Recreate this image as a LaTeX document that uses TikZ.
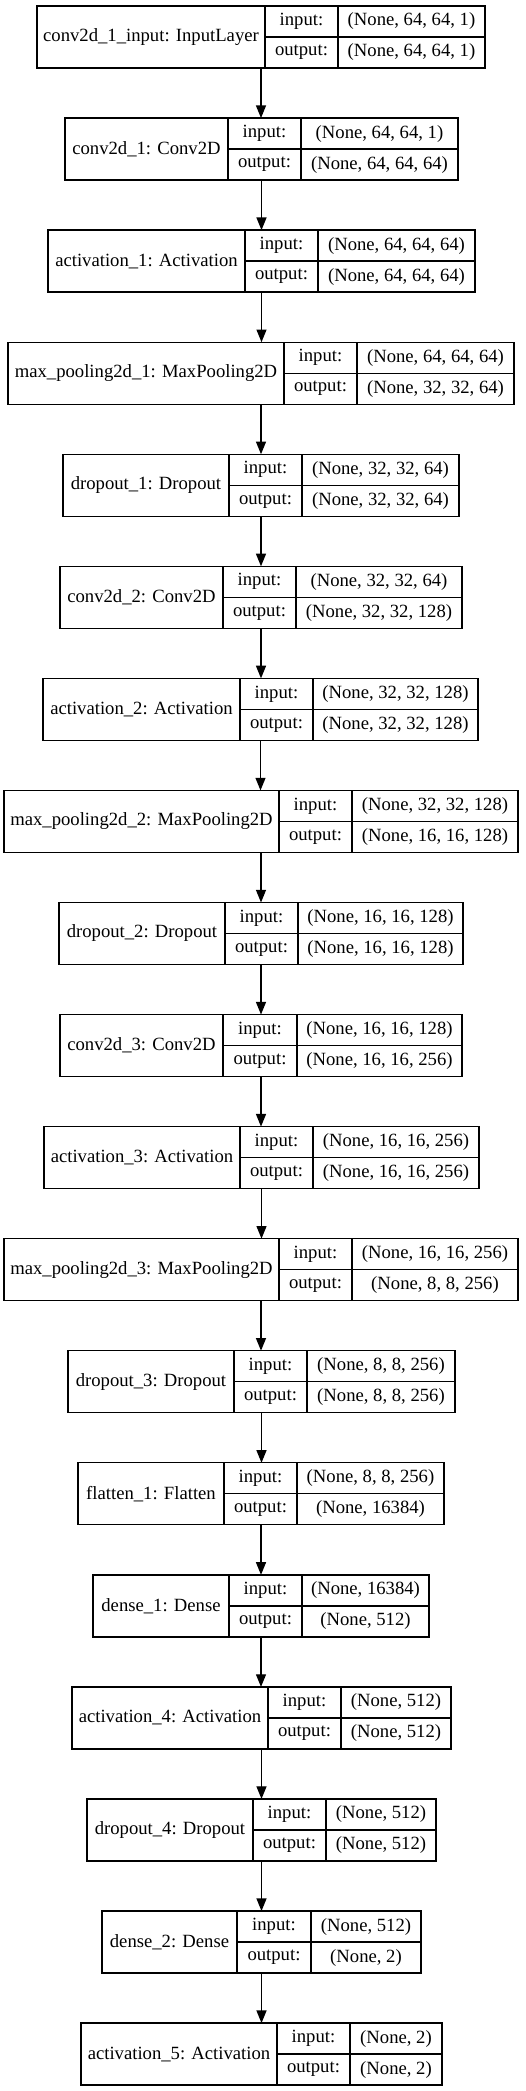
\documentclass[tikz,border=0pt]{standalone}
\usepackage{fontspec}
\setmainfont{Liberation Serif}
\usetikzlibrary{arrows.meta}
\tikzset{
  cellbox/.style={draw=black, line width=1pt, inner sep=0pt, outer sep=0pt,
    font=\fontsize{14}{16}\selectfont, anchor=center},
  wholebox/.style={inner sep=0pt, outer sep=0pt},
  flow/.style={-{Triangle[length=9.5pt,width=7.5pt]}, line width=1pt, draw=black}
}
% #1 index, #2 name, #3 left, #4 div1, #5 div2, #6 right, #7 input, #8 output
\newcommand{\layerbox}[8]{%
  \pgfmathsetmacro{\tp}{6+112.06*(#1-1)}%
  \node[wholebox, minimum width={(#6-#3)*0.75pt}, minimum height=46.5pt]
    (n#1) at ({(#3+#6)/2},{\tp+31}) {};
  \node[cellbox, minimum width={(#4-#3)*0.75pt}, minimum height=46.5pt]
    (n#1name) at ({(#3+#4)/2},{\tp+31}) {#2};
  \node[cellbox, minimum width={(#5-#4)*0.75pt}, minimum height=23.25pt]
    (n#1il) at ({(#4+#5)/2},{\tp+15.5}) {input:};
  \node[cellbox, minimum width={(#5-#4)*0.75pt}, minimum height=23.25pt]
    (n#1ol) at ({(#4+#5)/2},{\tp+46.5}) {output:};
  \node[cellbox, minimum width={(#6-#5)*0.75pt}, minimum height=23.25pt]
    (n#1iv) at ({(#5+#6)/2},{\tp+15.5}) {#7};
  \node[cellbox, minimum width={(#6-#5)*0.75pt}, minimum height=23.25pt]
    (n#1ov) at ({(#5+#6)/2},{\tp+46.5}) {#8};
}
\begin{document}
\begin{tikzpicture}[x=0.75pt, y=-0.75pt]
\useasboundingbox (0,0) rectangle (525,2091);
\layerbox{1}{conv2d\_1\_input: InputLayer}{37}{265}{338}{485}{(None, 64, 64, 1)}{(None, 64, 64, 1)}
\layerbox{2}{conv2d\_1: Conv2D}{65}{228}{301}{458}{(None, 64, 64, 1)}{(None, 64, 64, 64)}
\layerbox{3}{activation\_1: Activation}{48}{245}{318}{475}{(None, 64, 64, 64)}{(None, 64, 64, 64)}
\layerbox{4}{max\_pooling2d\_1: MaxPooling2D}{8}{284}{357}{514}{(None, 64, 64, 64)}{(None, 32, 32, 64)}
\layerbox{5}{dropout\_1: Dropout}{63}{229}{302}{459}{(None, 32, 32, 64)}{(None, 32, 32, 64)}
\layerbox{6}{conv2d\_2: Conv2D}{60}{223}{296}{462}{(None, 32, 32, 64)}{(None, 32, 32, 128)}
\layerbox{7}{activation\_2: Activation}{43}{240}{313}{478}{(None, 32, 32, 128)}{(None, 32, 32, 128)}
\layerbox{8}{max\_pooling2d\_2: MaxPooling2D}{4}{279}{352}{518}{(None, 32, 32, 128)}{(None, 16, 16, 128)}
\layerbox{9}{dropout\_2: Dropout}{59}{225}{298}{463}{(None, 16, 16, 128)}{(None, 16, 16, 128)}
\layerbox{10}{conv2d\_3: Conv2D}{60}{223}{297}{462}{(None, 16, 16, 128)}{(None, 16, 16, 256)}
\layerbox{11}{activation\_3: Activation}{44}{240}{313}{479}{(None, 16, 16, 256)}{(None, 16, 16, 256)}
\layerbox{12}{max\_pooling2d\_3: MaxPooling2D}{4}{279}{352}{518}{(None, 16, 16, 256)}{(None, 8, 8, 256)}
\layerbox{13}{dropout\_3: Dropout}{68}{234}{307}{455}{(None, 8, 8, 256)}{(None, 8, 8, 256)}
\layerbox{14}{flatten\_1: Flatten}{78}{224}{297}{444}{(None, 8, 8, 256)}{(None, 16384)}
\layerbox{15}{dense\_1: Dense}{93}{229}{302}{429}{(None, 16384)}{(None, 512)}
\layerbox{16}{activation\_4: Activation}{72}{268}{341}{451}{(None, 512)}{(None, 512)}
\layerbox{17}{dropout\_4: Dropout}{87}{253}{326}{436}{(None, 512)}{(None, 512)}
\layerbox{18}{dense\_2: Dense}{102}{237}{311}{421}{(None, 512)}{(None, 2)}
\layerbox{19}{activation\_5: Activation}{81}{277}{350}{442}{(None, 2)}{(None, 2)}
\foreach \i [evaluate=\i as \j using int(\i+1)] in {1,...,18}
  \draw[flow] (n\i.south) -- (n\i.south |- n\j.north);
\end{tikzpicture}
\end{document}
